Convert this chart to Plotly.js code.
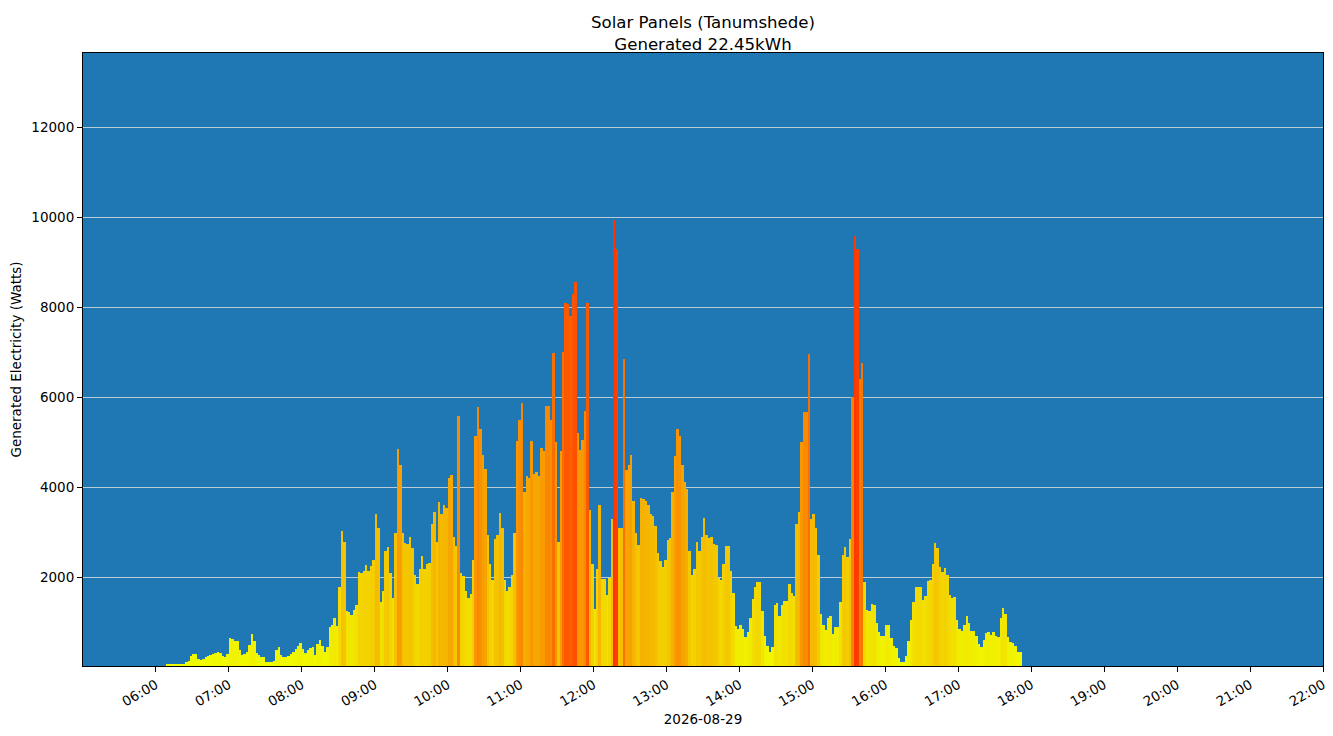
<!DOCTYPE html>
<html>
<head>
<meta charset="utf-8">
<script src="https://cdn.plot.ly/plotly-3.0.1.min.js"></script>
<style>
  body { margin: 0; background: #ffffff; }
  #chart { width: 1333px; height: 736px; }
</style>
</head>
<body>
<div id="chart"></div>
<script>
// readings every 2 minutes, starting 06:08
var day = '2026-08-29';
var firstReading = '06:08';
var stepMinutes = 2;

var watts = [
  73, 73, 73, 70, 70, 70, 70, 90, 118, 140, 250, 296, 296, 200, 162, 190, 229, 250, 285, 296,
  320, 340, 320, 250, 229, 300, 651, 630, 600, 584, 400, 273, 300, 340, 500, 740, 580, 318, 290, 229,
  229, 118, 118, 118, 150, 400, 451, 273, 240, 229, 250, 300, 340, 420, 470, 540, 420, 320, 380, 430,
  451, 290, 520, 607, 480, 340, 450, 900, 950, 1096, 930, 1800, 3029, 2800, 1260, 1229, 1160, 1270, 1400, 2118,
  2090, 2150, 2273, 2150, 2251, 2400, 3407, 3100, 1450, 1700, 2600, 2673, 2100, 1550, 3000, 4851, 4500, 3000, 2762, 2750,
  2896, 2650, 2051, 1850, 2200, 2473, 2200, 2296, 2330, 3200, 3451, 2800, 3674, 3400, 3607, 3550, 4200, 4273, 2900, 2700,
  5584, 2100, 2029, 1700, 1550, 1629, 2400, 5140, 5785, 5300, 4718, 4400, 2950, 2300, 1950, 2850, 2940, 3429, 3100, 1950,
  1700, 1800, 2050, 3000, 5029, 5500, 5873, 3900, 4251, 4200, 5029, 4300, 4340, 4250, 4873, 4800, 5800, 5807, 5500, 6985,
  5000, 2800, 4800, 7000, 8096, 8073, 7800, 8300, 8562, 5200, 4829, 5050, 5700, 8100, 3500, 2300, 1300, 2200, 3607, 1962,
  1962, 1607, 2000, 3300, 9950, 9300, 3100, 3100, 6850, 4385, 4500, 4718, 3700, 3000, 2718, 3774, 3740, 3707, 3600, 3400,
  3360, 3150, 2550, 2363, 2229, 2400, 2829, 2880, 3900, 4700, 5296, 5150, 4500, 4120, 3963, 2600, 2050, 2200, 2785, 2600,
  2900, 3318, 2950, 2870, 2896, 2750, 2718, 2000, 1950, 2300, 2696, 2696, 2150, 1650, 930, 850, 941, 860, 674, 780,
  1100, 1530, 1780, 1896, 1896, 1250, 700, 470, 340, 450, 1400, 1429, 1150, 1385, 1480, 1470, 1852, 1650, 1600, 3200,
  3450, 5000, 5674, 5674, 6962, 3300, 3400, 3096, 2500, 1200, 950, 829, 1100, 1140, 750, 896, 900, 1450, 2500, 2674,
  2450, 2850, 6000, 9585, 9300, 6400, 6762, 1900, 1280, 1250, 1407, 1385, 1000, 780, 696, 700, 940, 940, 650, 480,
  440, 220, 118, 118, 250, 600, 1050, 1450, 1785, 1785, 1785, 1500, 1600, 1918, 1950, 2300, 2762, 2650, 2230, 2130,
  2207, 2050, 1620, 1550, 1563, 1050, 851, 820, 950, 1140, 1000, 807, 807, 700, 530, 450, 620, 760, 785, 730,
  785, 710, 680, 1100, 1318, 1200, 674, 563, 540, 480, 350, 340
];

var hourTicks = ['06:00', '07:00', '08:00', '09:00', '10:00', '11:00', '12:00', '13:00',
                 '14:00', '15:00', '16:00', '17:00', '18:00', '19:00', '20:00', '21:00', '22:00'];
var yTicks = [2000, 4000, 6000, 8000, 10000, 12000];

function pad(n) { return (n < 10 ? '0' : '') + n; }
function stamp(minutes) {
  var h = Math.floor(minutes / 60), m = Math.floor(minutes % 60), s = Math.round((minutes % 1) * 60);
  return day + ' ' + pad(h) + ':' + pad(m) + ':' + pad(s);
}
function toMinutes(hhmm) {
  var p = hhmm.split(':');
  return +p[0] * 60 + +p[1];
}

// yellow for low output, towards red for the peaks
var peak = Math.max.apply(null, watts);
function barColour(v) {
  var t = v / peak;
  var r = Math.round(240 + 15 * t);
  var g = Math.round(255 - 205 * t);
  return 'rgb(' + r + ',' + g + ',0)';
}

var start = toMinutes(firstReading);
var times = watts.map(function (v, i) { return stamp(start + i * stepMinutes + stepMinutes / 2); });
var colours = watts.map(barColour);

var trace = {
  x: times,
  y: watts,
  type: 'bar',
  width: stepMinutes * 60 * 1000,
  marker: { color: colours, line: { width: 0 } },
  hoverinfo: 'x+y'
};

var layout = {
  width: 1333,
  height: 736,
  margin: { l: 83, r: 10, t: 53, b: 70 },
  paper_bgcolor: '#ffffff',
  plot_bgcolor: '#1f77b4',
  font: { family: 'DejaVu Sans', size: 13.5, color: '#000000' },
  bargap: 0,
  showlegend: false,
  title: {
    text: 'Solar Panels (Tanumshede)<br>Generated 22.45kWh',
    font: { family: 'DejaVu Sans', size: 16.6, color: '#000000' },
    xref: 'paper', x: 0.5, xanchor: 'center',
    yref: 'container', y: 0.962, yanchor: 'middle'
  },
  xaxis: {
    type: 'date',
    range: [day + ' 05:00:00', day + ' 22:00:00'],
    tickmode: 'array',
    tickvals: hourTicks.map(function (t) { return day + ' ' + t + ':00'; }),
    ticktext: hourTicks,
    tickangle: -30,
    ticks: 'outside', ticklen: 5, tickcolor: '#000000',
    showline: true, linecolor: '#000000', linewidth: 1, mirror: true,
    showgrid: false, zeroline: false,
    title: { text: day, font: { size: 13.5 }, standoff: 6 }
  },
  yaxis: {
    range: [35, 13650],
    tickmode: 'array',
    tickvals: yTicks,
    ticktext: yTicks.map(String),
    ticks: 'outside', ticklen: 5, tickcolor: '#000000',
    showline: true, linecolor: '#000000', linewidth: 1, mirror: true,
    showgrid: true, gridcolor: '#e0e0e0', gridwidth: 0.8,
    zeroline: false,
    title: { text: 'Generated Electricity (Watts)', font: { size: 13.5 }, standoff: 6 }
  }
};

Plotly.newPlot('chart', [trace], layout, { displayModeBar: false, staticPlot: true });
</script>
</body>
</html>
